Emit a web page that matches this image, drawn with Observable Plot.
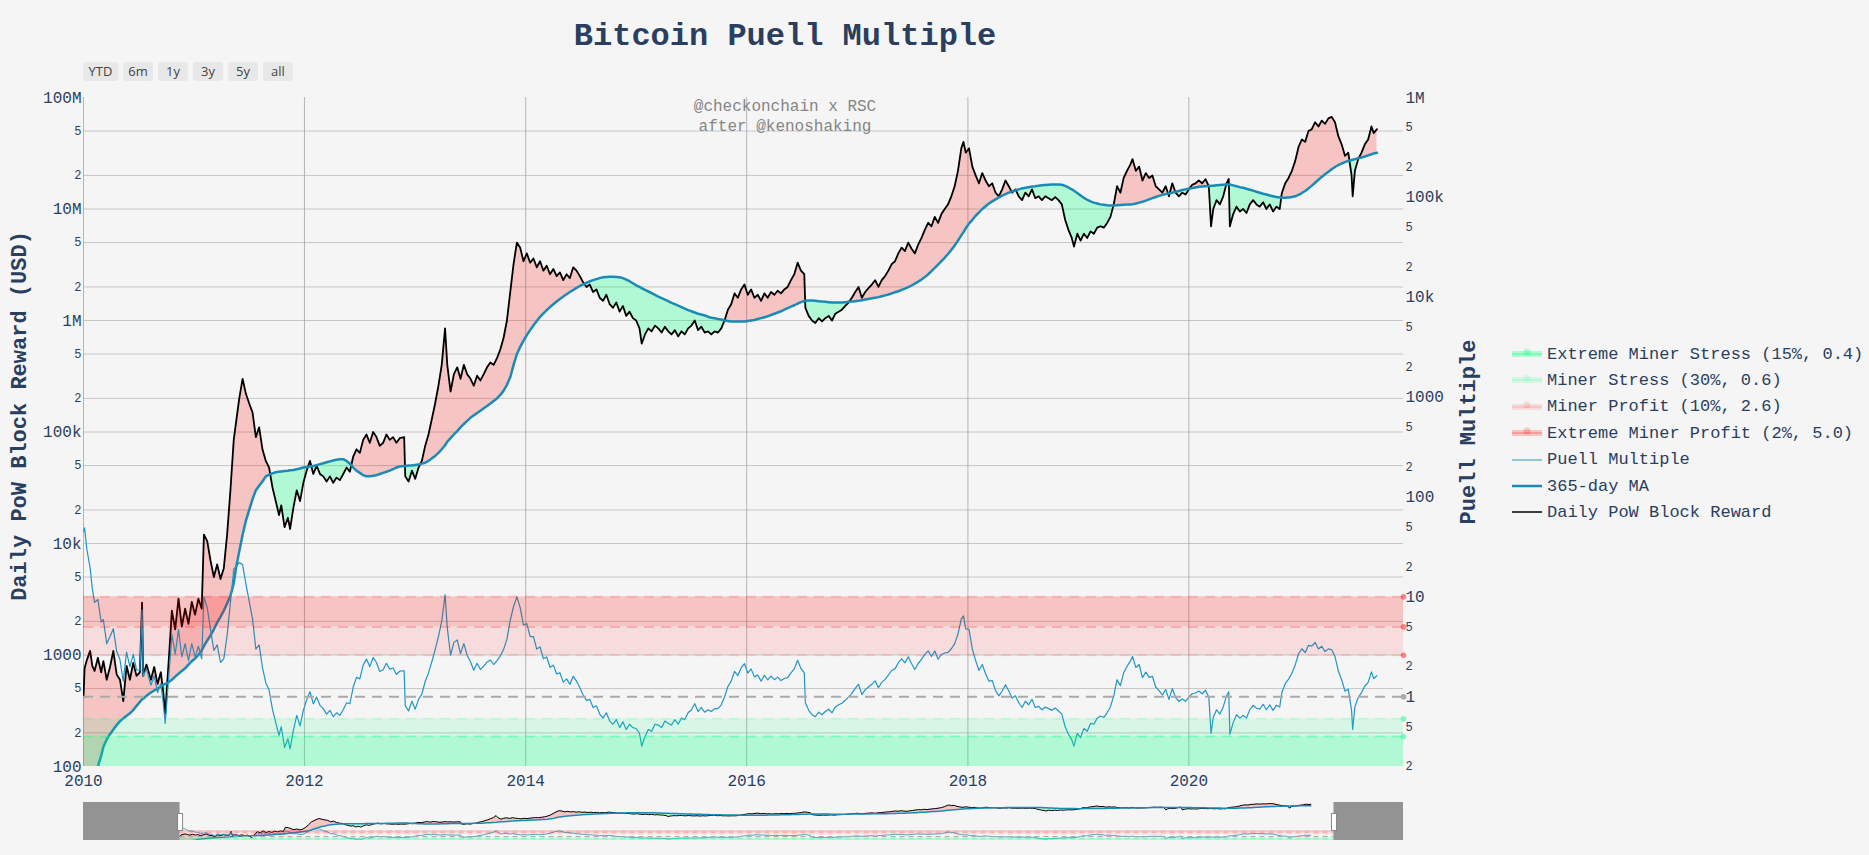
<!DOCTYPE html>
<html>
<head>
<meta charset="utf-8">
<script src="https://cdn.jsdelivr.net/npm/d3@7"></script>
<script src="https://cdn.jsdelivr.net/npm/@observablehq/plot@0.6"></script>
<style>
html,body{margin:0;padding:0;background:#f5f5f5;}
#root{position:relative;width:1869px;height:855px;overflow:hidden;background:#f5f5f5;font-family:"Courier New","Liberation Mono",monospace;color:#2a3f5f;}
.abs{position:absolute;white-space:nowrap;}
.layer{position:absolute;left:0;}
.btn{position:absolute;top:62px;height:19px;line-height:19px;background:#e8e8e8;border-radius:3px;font-family:"Open Sans",sans-serif;font-size:13px;color:#444;text-align:center;}
.legrow{position:absolute;left:1512px;height:24px;display:flex;align-items:center;font-size:17px;white-space:nowrap;}
.legrow svg{margin-right:5px;flex:none;}
</style>
</head>
<body>
<div id="root"></div>
<script>
// ---------------- DATA ----------------
// decimal years
const years = [
2010.00,2010.01,2010.03,2010.06,2010.08,2010.10,2010.13,2010.16,2010.18,2010.21,2010.24,2010.27,2010.30,2010.33,2010.36,2010.39,2010.42,2010.45,2010.48,2010.51,2010.53,2010.54,2010.57,2010.61,2010.64,2010.67,2010.70,2010.72,2010.74,2010.76,2010.78,2010.80,2010.83,2010.86,2010.89,2010.92,2010.95,2010.98,
2011.01,2011.04,2011.07,2011.09,2011.12,2011.15,2011.18,2011.21,2011.24,2011.27,2011.30,2011.33,2011.36,2011.38,2011.41,2011.44,2011.47,2011.50,2011.53,2011.56,2011.59,2011.62,2011.65,2011.68,2011.71,2011.74,2011.77,2011.79,2011.82,2011.85,2011.87,2011.90,2011.93,2011.96,2011.99,
2012.02,2012.05,2012.08,2012.11,2012.14,2012.17,2012.20,2012.23,2012.26,2012.29,2012.32,2012.35,2012.38,2012.41,2012.44,2012.47,2012.50,2012.53,2012.56,2012.59,2012.62,2012.65,2012.68,2012.71,2012.74,2012.77,2012.80,2012.83,2012.86,2012.90,2012.91,2012.94,2012.97,
2013.00,2013.03,2013.06,2013.09,2013.12,2013.15,2013.18,2013.21,2013.24,2013.27,2013.29,2013.32,2013.35,2013.38,2013.41,2013.44,2013.47,2013.50,2013.53,2013.56,2013.59,2013.62,2013.65,2013.68,2013.71,2013.74,2013.77,2013.80,2013.83,2013.86,2013.89,2013.92,2013.95,2013.98,
2014.01,2014.04,2014.07,2014.10,2014.13,2014.16,2014.19,2014.22,2014.25,2014.28,2014.31,2014.34,2014.37,2014.40,2014.43,2014.46,2014.49,2014.52,2014.55,2014.58,2014.61,2014.64,2014.67,2014.70,2014.73,2014.76,2014.79,2014.82,2014.85,2014.88,2014.91,2014.94,2014.97,
2015.00,2015.03,2015.05,2015.08,2015.11,2015.14,2015.17,2015.20,2015.23,2015.26,2015.29,2015.32,2015.35,2015.38,2015.41,2015.44,2015.47,2015.50,2015.53,2015.56,2015.59,2015.62,2015.65,2015.68,2015.71,2015.74,2015.77,2015.80,2015.83,2015.86,2015.89,2015.92,2015.95,2015.98,
2016.01,2016.04,2016.07,2016.10,2016.13,2016.16,2016.19,2016.22,2016.25,2016.28,2016.31,2016.34,2016.37,2016.40,2016.43,2016.46,2016.49,2016.52,2016.53,2016.56,2016.59,2016.62,2016.65,2016.68,2016.71,2016.74,2016.77,2016.80,2016.83,2016.86,2016.89,2016.92,2016.95,2016.98,
2017.01,2017.04,2017.07,2017.10,2017.13,2017.16,2017.19,2017.22,2017.25,2017.28,2017.31,2017.34,2017.37,2017.40,2017.43,2017.46,2017.49,2017.52,2017.55,2017.58,2017.61,2017.64,2017.67,2017.70,2017.73,2017.76,2017.79,2017.82,2017.85,2017.88,2017.91,2017.94,2017.96,2017.98,
2018.01,2018.04,2018.07,2018.10,2018.13,2018.16,2018.19,2018.22,2018.25,2018.28,2018.31,2018.34,2018.37,2018.40,2018.43,2018.46,2018.49,2018.52,2018.55,2018.58,2018.61,2018.64,2018.67,2018.70,2018.73,2018.76,2018.79,2018.82,2018.85,2018.88,2018.91,2018.94,2018.96,2018.99,
2019.02,2019.05,2019.08,2019.11,2019.14,2019.17,2019.20,2019.23,2019.26,2019.29,2019.32,2019.35,2019.38,2019.41,2019.44,2019.47,2019.49,2019.52,2019.55,2019.58,2019.61,2019.64,2019.67,2019.70,2019.73,2019.76,2019.79,2019.82,2019.85,2019.88,2019.91,2019.94,2019.97,
2020.00,2020.03,2020.06,2020.09,2020.12,2020.15,2020.18,2020.20,2020.22,2020.25,2020.28,2020.31,2020.34,2020.36,2020.37,2020.40,2020.43,2020.46,2020.49,2020.52,2020.55,2020.58,2020.61,2020.64,2020.67,2020.70,2020.73,2020.76,2020.79,2020.82,2020.84,2020.87,2020.90,2020.93,2020.96,2020.99,
2021.02,2021.05,2021.08,2021.11,2021.14,2021.17,2021.20,2021.23,2021.26,2021.29,2021.32,2021.35,2021.38,2021.41,2021.44,2021.47,2021.48,2021.50,2021.53,2021.56,2021.59,2021.62,2021.65,2021.67,2021.70
];
// Daily PoW Block Reward (USD)
const rewardUSD = [
420,760,900,1090,800,720,940,700,880,600,780,1090,670,600,385,800,600,850,650,700,2950,650,820,600,780,550,700,480,295,600,1200,2500,1700,3200,1800,2600,1900,3000,
2300,3200,2600,12e3,10.5e3,7e3,5e3,6.5e3,4.8e3,6e3,12e3,30e3,85e3,120e3,200e3,300e3,220e3,180e3,150e3,90e3,110e3,70e3,55e3,48e3,32e3,24e3,18e3,22e3,14e3,17e3,13.5e3,21e3,30e3,24e3,35e3,
45e3,55e3,42e3,50e3,42e3,40e3,36e3,40e3,35e3,39e3,37e3,42e3,48e3,44e3,60e3,70e3,65e3,85e3,95e3,80e3,100e3,90e3,75e3,80e3,95e3,85e3,90e3,80e3,88e3,90e3,40e3,36e3,45e3,
38e3,48e3,55e3,75e3,95e3,130e3,180e3,260e3,400e3,850e3,400e3,230e3,330e3,380e3,300e3,400e3,330e3,300e3,260e3,320e3,290e3,330e3,380e3,420e3,400e3,460e3,550e3,700e3,1e6,1.8e6,3.2e6,5e6,4.5e6,3.4e6,
4e6,3.3e6,3.6e6,3e6,3.4e6,2.8e6,3.1e6,2.6e6,2.9e6,2.5e6,2.7e6,2.3e6,2.6e6,2.4e6,3e6,2.8e6,2.5e6,2.2e6,2e6,2.1e6,1.8e6,1.9e6,1.6e6,1.5e6,1.7e6,1.4e6,1.3e6,1.45e6,1.2e6,1.35e6,1.1e6,1.2e6,1.05e6,
1e6,850e3,620e3,750e3,850e3,800e3,900e3,850e3,780e3,880e3,800e3,750e3,820e3,720e3,800e3,750e3,850e3,900e3,1e6,820e3,880e3,780e3,800e3,750e3,800e3,780e3,850e3,1e6,1.25e6,1.4e6,1.75e6,1.6e6,1.9e6,2.1e6,
1.7e6,1.9e6,1.6e6,1.7e6,1.5e6,1.75e6,1.6e6,1.8e6,1.7e6,1.85e6,1.75e6,1.9e6,2e6,2.3e6,2.6e6,3.3e6,2.8e6,2.6e6,1.3e6,1.1e6,1e6,950e3,1.05e6,980e3,1.05e6,1.1e6,1e6,1.15e6,1.2e6,1.25e6,1.35e6,1.45e6,1.6e6,1.8e6,
2e6,1.6e6,1.8e6,1.95e6,2.1e6,2.3e6,2e6,2.3e6,2.5e6,2.8e6,3.2e6,3.4e6,4e6,4.5e6,4.2e6,5e6,4.4e6,4e6,4.8e6,5.5e6,6.5e6,7.5e6,7e6,8.5e6,7.5e6,9e6,10e6,11e6,13e6,16e6,22e6,35e6,40e6,32e6,
35e6,24e6,20e6,17e6,21e6,18e6,16e6,17e6,14e6,13e6,15e6,18e6,16e6,14e6,15e6,13e6,12e6,14e6,13e6,15e6,12.5e6,13e6,12e6,13e6,12.5e6,12e6,12.8e6,12e6,11e6,8e6,6.5e6,5.5e6,4.6e6,6e6,
5.2e6,6e6,5.5e6,6.3e6,6e6,6.8e6,7e6,6.8e6,7.5e6,8.5e6,11e6,16e6,14e6,19e6,22e6,25e6,28e6,22e6,24e6,18e6,21e6,19e6,20e6,16e6,15e6,14e6,16e6,13e6,17e6,14e6,13e6,14e6,13.5e6,
15e6,16.5e6,17e6,18e6,17e6,18.5e6,16e6,7e6,10e6,12e6,11e6,13e6,17e6,18.6e6,7e6,9e6,10.5e6,9.5e6,10e6,9.2e6,11e6,12e6,11e6,10.5e6,11.5e6,10e6,11e6,9.5e6,10.5e6,10e6,14e6,17e6,19e6,22e6,27e6,36e6,
42e6,40e6,50e6,52e6,60e6,55e6,62e6,58e6,65e6,67e6,60e6,45e6,38e6,30e6,32e6,20e6,13e6,22e6,28e6,32e6,38e6,42e6,55e6,48e6,52e6
];
// 365-day moving average of the block reward (USD)
const ma365USD = [
9,15,30,55,70,82,100,125,150,175,195,215,235,255,270,285,300,320,350,380,400,405,430,460,480,500,520,540,550,560,580,600,640,680,720,760,820,880,
930,1000,1100,1200,1350,1500,1700,1950,2200,2500,2900,3400,4400,6000,8500,12e3,16e3,20e3,25e3,30e3,33e3,36e3,40e3,41.5e3,42.5e3,43.5e3,44e3,44.3e3,44.7e3,45e3,45.3e3,45.7e3,46.3e3,47e3,48e3,
48.5e3,49e3,49.5e3,50.5e3,51.5e3,52.5e3,53.5e3,54.5e3,55.5e3,56.5e3,57e3,57e3,55e3,52e3,48e3,45e3,43e3,41e3,40e3,40e3,40.5e3,41e3,42e3,43e3,44e3,45e3,46.5e3,48e3,49e3,49.5e3,49.6e3,50e3,50e3,
50.5e3,51e3,52e3,53e3,55e3,58e3,61e3,65e3,70e3,76e3,82e3,88e3,95e3,102e3,110e3,118e3,126e3,134e3,141e3,148e3,155e3,163e3,171e3,180e3,190e3,200e3,215e3,235e3,265e3,310e3,400e3,500e3,580e3,660e3,
740e3,820e3,900e3,990e3,1.08e6,1.16e6,1.24e6,1.32e6,1.4e6,1.48e6,1.56e6,1.64e6,1.72e6,1.8e6,1.88e6,1.96e6,2.04e6,2.11e6,2.18e6,2.24e6,2.3e6,2.35e6,2.4e6,2.44e6,2.46e6,2.47e6,2.47e6,2.46e6,2.44e6,2.4e6,2.33e6,2.25e6,2.16e6,
2.07e6,2e6,1.95e6,1.88e6,1.82e6,1.76e6,1.7e6,1.64e6,1.59e6,1.54e6,1.49e6,1.44e6,1.4e6,1.36e6,1.32e6,1.28e6,1.24e6,1.21e6,1.18e6,1.15e6,1.13e6,1.11e6,1.08e6,1.06e6,1.05e6,1.03e6,1.02e6,1e6,990e3,980e3,980e3,980e3,980e3,980e3,
990e3,1e6,1.01e6,1.03e6,1.05e6,1.07e6,1.09e6,1.12e6,1.15e6,1.18e6,1.21e6,1.25e6,1.29e6,1.33e6,1.37e6,1.42e6,1.46e6,1.5e6,1.5e6,1.51e6,1.51e6,1.5e6,1.49e6,1.48e6,1.47e6,1.46e6,1.45e6,1.45e6,1.45e6,1.45e6,1.46e6,1.47e6,1.48e6,1.49e6,
1.5e6,1.52e6,1.54e6,1.56e6,1.58e6,1.6e6,1.62e6,1.65e6,1.68e6,1.71e6,1.75e6,1.79e6,1.83e6,1.88e6,1.93e6,1.99e6,2.06e6,2.14e6,2.23e6,2.33e6,2.45e6,2.6e6,2.77e6,2.96e6,3.17e6,3.4e6,3.65e6,3.95e6,4.3e6,4.7e6,5.2e6,5.8e6,6.2e6,6.7e6,
7.4e6,8e6,8.7e6,9.3e6,10e6,10.6e6,11.2e6,11.7e6,12.2e6,12.7e6,13.2e6,13.6e6,14e6,14.4e6,14.7e6,15e6,15.3e6,15.5e6,15.7e6,15.9e6,16e6,16.2e6,16.3e6,16.4e6,16.5e6,16.55e6,16.6e6,16.6e6,16.5e6,16.1e6,15.6e6,15e6,14.6e6,13.9e6,
13.2e6,12.6e6,12.1e6,11.7e6,11.4e6,11.2e6,11e6,10.9e6,10.8e6,10.75e6,10.75e6,10.8e6,10.85e6,10.9e6,10.95e6,11e6,11.05e6,11.2e6,11.4e6,11.6e6,11.9e6,12.2e6,12.5e6,12.8e6,13.1e6,13.4e6,13.6e6,13.8e6,14e6,14.3e6,14.5e6,14.8e6,15e6,
15.2e6,15.4e6,15.6e6,15.8e6,15.9e6,16e6,16.1e6,16.15e6,16.2e6,16.3e6,16.4e6,16.5e6,16.6e6,16.6e6,16.6e6,16.3e6,16e6,15.7e6,15.5e6,15.2e6,14.9e6,14.6e6,14.3e6,14e6,13.7e6,13.5e6,13.2e6,13e6,12.8e6,12.7e6,12.6e6,12.6e6,12.7e6,12.8e6,13e6,13.4e6,
13.9e6,14.5e6,15.3e6,16.2e6,17.2e6,18.3e6,19.4e6,20.5e6,21.6e6,22.7e6,23.8e6,24.8e6,25.6e6,26.3e6,27e6,27.5e6,27.7e6,28e6,28.5e6,29e6,29.6e6,30.3e6,31e6,31.5e6,32e6
];
// Puell Multiple
const puellMultiple = [
45,49,30,19.5,12,8.8,9.4,5.6,5.9,3.4,4.0,4.8,2.85,2.35,1.43,2.8,2.0,2.65,1.86,1.84,7.4,1.6,1.9,1.3,1.62,1.1,1.35,0.89,0.54,1.07,2.07,4.2,2.66,4.7,2.5,3.4,2.3,3.4,
2.5,3.2,2.4,10,7.8,4.7,2.9,3.3,2.2,2.4,4.1,8.8,19,20,22,21,13.5,9,6,3.0,3.3,1.95,1.38,1.16,0.75,0.55,0.41,0.5,0.31,0.38,0.3,0.46,0.65,0.51,0.73,
0.93,1.12,0.85,0.99,0.82,0.76,0.67,0.73,0.63,0.69,0.65,0.74,0.87,0.85,1.25,1.56,1.51,2.07,2.38,2.0,2.47,2.2,1.79,1.86,2.16,1.89,1.94,1.67,1.8,1.82,0.81,0.72,0.9,
0.75,0.94,1.06,1.42,1.73,2.24,2.95,4.0,5.7,10.5,4.9,2.6,3.5,3.7,2.7,3.4,2.6,2.24,1.84,2.16,1.87,2.02,2.22,2.33,2.1,2.3,2.56,2.98,3.77,5.8,8.0,10,7.8,5.2,
5.4,4.0,4.0,3.0,3.15,2.4,2.5,1.97,2.07,1.69,1.73,1.4,1.51,1.33,1.6,1.43,1.23,1.04,0.92,0.94,0.78,0.81,0.67,0.61,0.69,0.57,0.53,0.59,0.49,0.56,0.47,0.53,0.49,
0.48,0.43,0.32,0.4,0.47,0.45,0.53,0.52,0.49,0.57,0.54,0.52,0.59,0.53,0.61,0.59,0.69,0.74,0.85,0.71,0.78,0.7,0.74,0.71,0.76,0.76,0.83,1.0,1.26,1.43,1.79,1.63,1.94,2.14,
1.72,1.9,1.58,1.65,1.43,1.64,1.47,1.61,1.48,1.57,1.45,1.52,1.55,1.73,1.9,2.32,1.92,1.73,0.87,0.73,0.66,0.63,0.7,0.66,0.71,0.75,0.69,0.79,0.83,0.86,0.92,0.99,1.08,1.21,
1.33,1.05,1.17,1.25,1.33,1.44,1.23,1.39,1.49,1.64,1.83,1.9,2.19,2.39,2.18,2.51,2.14,1.87,2.15,2.36,2.65,2.88,2.53,2.87,2.37,2.65,2.74,2.78,3.02,3.4,4.23,6.03,6.45,4.78,
4.73,3.0,2.3,1.83,2.1,1.7,1.43,1.45,1.15,1.02,1.14,1.32,1.14,0.97,1.02,0.87,0.78,0.9,0.83,0.94,0.78,0.8,0.74,0.79,0.76,0.73,0.77,0.72,0.67,0.5,0.42,0.37,0.32,0.43,
0.39,0.48,0.45,0.54,0.53,0.61,0.64,0.62,0.69,0.79,1.02,1.48,1.29,1.74,2.01,2.27,2.53,1.96,2.1,1.55,1.76,1.56,1.6,1.25,1.15,1.04,1.18,0.94,1.21,0.98,0.9,0.95,0.9,
0.99,1.07,1.09,1.14,1.07,1.16,0.99,0.43,0.62,0.74,0.67,0.79,1.02,1.12,0.42,0.55,0.66,0.61,0.65,0.61,0.74,0.82,0.77,0.75,0.84,0.74,0.83,0.73,0.82,0.79,1.11,1.35,1.5,1.72,2.08,2.69,
3.02,2.76,3.27,3.21,3.49,3.0,3.2,2.83,3.01,2.95,2.52,1.81,1.48,1.14,1.19,0.73,0.47,0.79,0.98,1.1,1.28,1.39,1.77,1.52,1.62
];

// Puell Multiple zones (right axis)
const zoneNames = ["Extreme Miner Stress (15%, 0.4)", "Miner Stress (30%, 0.6)", "Miner Profit (10%, 2.6)", "Extreme Miner Profit (2%, 5.0)"];
const zoneLow  = [0.2, 0.4, 2.6, 5.0];
const zoneHigh = [0.4, 0.6, 5.0, 10];
const zoneColors = ["rgba(0,255,127,0.28)", "rgba(0,255,127,0.12)", "rgba(255,0,0,0.1)", "rgba(255,0,0,0.2)"];
const zoneLineValues = [10, 5.0, 2.6, 1, 0.6, 0.4];
const zoneLineColors = ["rgba(255,0,0,0.16)", "rgba(255,0,0,0.2)", "rgba(255,0,0,0.1)", "#aaaaaa", "rgba(0,255,127,0.14)", "rgba(0,255,127,0.32)"];

// ticks and titles
const xTickYears = [2010, 2012, 2014, 2016, 2018, 2020];
const leftMajorTicks  = [100, 1e3, 1e4, 1e5, 1e6, 1e7, 1e8];
const leftMajorLabels = ["100", "1000", "10k", "100k", "1M", "10M", "100M"];
const leftMinorTicks  = [200, 500, 2e3, 5e3, 2e4, 5e4, 2e5, 5e5, 2e6, 5e6, 2e7, 5e7];
const rightMajorTicks  = [1, 10, 100, 1e3, 1e4, 1e5, 1e6];
const rightMajorLabels = ["1", "10", "100", "1000", "10k", "100k", "1M"];
const rightMinorTicks  = [0.2, 0.5, 2, 5, 20, 50, 200, 500, 2e3, 5e3, 2e4, 5e4, 2e5, 5e5];
const leftAxisTitle = "Daily PoW Block Reward (USD)";
const rightAxisTitle = "Puell Multiple";

const legendNames = [...zoneNames, "Puell Multiple", "365-day MA", "Daily PoW Block Reward"];
const rangeButtons = ["YTD", "6m", "1y", "3y", "5y", "all"];

// ---------------- CHART ----------------
const toDate = y => { const yr = Math.floor(y + 1e-9); const a = Date.UTC(yr, 0, 1), b = Date.UTC(yr + 1, 0, 1); return new Date(a + (y - yr) * (b - a)); };
const n = Math.min(years.length, rewardUSD.length, ma365USD.length, puellMultiple.length);
if (n !== years.length || n !== rewardUSD.length || n !== ma365USD.length || n !== puellMultiple.length) console.warn("length mismatch", years.length, rewardUSD.length, ma365USD.length, puellMultiple.length);
const data = d3.range(n).map(i => ({date: toDate(years[i]), reward: rewardUSD[i], ma: ma365USD[i], puell: puellMultiple[i]}));

const W = 1869, H = 800;
const FL = 83, FR = 1403, FT = 97, FB = 766;
const xDomain = [toDate(2010.0), toDate(2021.94)];
const sliderDomain = [toDate(2009.0), toDate(2022.66)];
const leftDomain = [100, 1e8];
const rightDomain = [0.2, 1e6];
const FONT = '"Courier New","Liberation Mono",monospace';
const RED = "#ff0000", GREEN = "#00ff7f";
const MA_COLOR = "#1b8ab5", PUELL_COLOR = "#2196c3";

const leftMajorMap = new Map(leftMajorTicks.map((t, i) => [t, leftMajorLabels[i]]));
const rightMajorMap = new Map(rightMajorTicks.map((t, i) => [t, rightMajorLabels[i]]));
const minorFmt = d => String(Math.round(d / Math.pow(10, Math.floor(Math.log10(d) + 1e-9))));

const root = document.getElementById("root");
function layer(el, top) { const d = document.createElement("div"); d.className = "layer"; d.style.top = top + "px"; d.appendChild(el); root.appendChild(d); }

const frameOpts = {width: W, height: H, marginLeft: FL, marginRight: W - FR, marginTop: FT, marginBottom: H - FB};

// Left-axis plot: block reward, MA, fills, grid
const main = Plot.plot({
  ...frameOpts,
  style: {background: "#f5f5f5", fontFamily: FONT, color: "#2a3f5f", overflow: "visible"},
  x: {type: "utc", domain: xDomain, label: null},
  y: {type: "log", domain: leftDomain, label: null},
  marks: [
    Plot.gridY(leftMinorTicks.concat([1e3, 1e4, 1e5, 1e6, 1e7]), {stroke: "#c6c6c6", strokeOpacity: 1}),
    Plot.gridX(xTickYears.map(toDate), {stroke: "#a4a4a4", strokeOpacity: 1, strokeWidth: 0.8}),
    Plot.areaY(data, {x: "date", y1: "ma", y2: d => Math.max(d.reward, d.ma), fill: RED, fillOpacity: 0.2, clip: true}),
    Plot.areaY(data, {x: "date", y1: d => Math.min(d.reward, d.ma), y2: "ma", fill: GREEN, fillOpacity: 0.28, clip: true}),
    Plot.lineY(data, {x: "date", y: "reward", stroke: "#000", strokeWidth: 1.8, clip: true}),
    Plot.lineY(data, {x: "date", y: "ma", stroke: MA_COLOR, strokeWidth: 2.5, clip: true}),
    Plot.axisY(leftMajorTicks, {anchor: "left", tickSize: 0, tickPadding: 2, fontSize: 16, label: null, tickFormat: d => leftMajorMap.get(d)}),
    Plot.text(leftMinorTicks, {y: d => d, frameAnchor: "left", dx: -2, textAnchor: "end", text: minorFmt, fontSize: 12, fill: "currentColor"}),
    Plot.axisX(xTickYears.map(toDate), {anchor: "bottom", tickSize: 0, tickPadding: 8, fontSize: 16, label: null, tickFormat: d => String(d.getUTCFullYear())}),
    Plot.text([leftAxisTitle], {frameAnchor: "left", textAnchor: "middle", dx: -65, dy: -16, rotate: -90, text: d => d, fontSize: 22, fontWeight: "bold", fill: "#2a3f5f"})
  ]
});
layer(main, 0);

// Right-axis plot: Puell multiple and zones
const zoneMarks = zoneLow.map((lo, i) => Plot.rect([0], {x1: () => xDomain[0], x2: () => xDomain[1], y1: () => lo, y2: () => zoneHigh[i], fill: zoneColors[i]}));
const zoneRules = zoneLineValues.map((v, i) => Plot.ruleY([v], {stroke: zoneLineColors[i], strokeWidth: 2, strokeDasharray: "10,7"}));
const overlay = Plot.plot({
  ...frameOpts,
  style: {background: "transparent", fontFamily: FONT, color: "#2a3f5f", overflow: "visible"},
  x: {type: "utc", domain: xDomain, axis: null},
  y: {type: "log", domain: rightDomain, label: null},
  marks: [
    Plot.lineY(data, {x: "date", y: "puell", stroke: PUELL_COLOR, strokeWidth: 1.2, clip: true}),
    ...zoneMarks,
    ...zoneRules,
    Plot.dot(zoneLineValues, {x: () => xDomain[1], y: d => d, r: 2.8, fill: (d, i) => zoneLineColors[i].replace(/0\.\d+\)/, "0.45)")}),
    Plot.axisY(rightMajorTicks, {anchor: "right", tickSize: 0, tickPadding: 2, fontSize: 16, label: null, tickFormat: d => rightMajorMap.get(d)}),
    Plot.text(rightMinorTicks, {y: d => d, frameAnchor: "right", dx: 2, textAnchor: "start", text: minorFmt, fontSize: 12, fill: "currentColor"}),
    Plot.text([rightAxisTitle], {frameAnchor: "right", textAnchor: "middle", dx: 64, rotate: -90, text: d => d, fontSize: 22, fontWeight: "bold", fill: "#2a3f5f"})
  ]
});
layer(overlay, 0);

// Range slider (mini charts)
const SH = 38;
const sliderOpts = {width: W, height: SH, marginLeft: FL, marginRight: W - FR, marginTop: 0, marginBottom: 0};
const sliderMain = Plot.plot({
  ...sliderOpts,
  style: {background: "transparent", overflow: "visible"},
  x: {type: "utc", domain: sliderDomain, axis: null},
  y: {type: "log", domain: leftDomain, axis: null},
  marks: [
    Plot.areaY(data, {x: "date", y1: "ma", y2: d => Math.max(d.reward, d.ma), fill: RED, fillOpacity: 0.2, clip: true}),
    Plot.areaY(data, {x: "date", y1: d => Math.min(d.reward, d.ma), y2: "ma", fill: GREEN, fillOpacity: 0.28, clip: true}),
    Plot.lineY(data, {x: "date", y: "reward", stroke: "#000", strokeWidth: 1, clip: true}),
    Plot.lineY(data, {x: "date", y: "ma", stroke: MA_COLOR, strokeWidth: 1.5, clip: true})
  ]
});
layer(sliderMain, 802);
const sliderPuell = Plot.plot({
  ...sliderOpts,
  style: {background: "transparent", overflow: "visible"},
  x: {type: "utc", domain: sliderDomain, axis: null},
  y: {type: "log", domain: rightDomain, axis: null},
  marks: [
    Plot.lineY(data, {x: "date", y: "puell", stroke: PUELL_COLOR, strokeWidth: 0.8, clip: true}),
    ...zoneLow.map((lo, i) => Plot.rect([0], {x1: () => toDate(2010.0), x2: () => xDomain[1], y1: () => lo, y2: () => zoneHigh[i], fill: zoneColors[i]})),
    ...zoneLineValues.map((v, i) => Plot.ruleY([v], {x1: () => toDate(2010.0), x2: () => xDomain[1], stroke: zoneLineColors[i], strokeWidth: 1, strokeDasharray: "5,4"})),
    Plot.rect([0], {x1: () => sliderDomain[0], x2: () => xDomain[0], y1: () => rightDomain[0], y2: () => rightDomain[1], fill: "#000", fillOpacity: 0.4}),
    Plot.rect([0], {x1: () => xDomain[1], x2: () => sliderDomain[1], y1: () => rightDomain[0], y2: () => rightDomain[1], fill: "#000", fillOpacity: 0.4}),
    Plot.ruleX(xDomain, {stroke: "#888", strokeWidth: 6, insetTop: 11, insetBottom: 9}),
    Plot.ruleX(xDomain, {stroke: "#fff", strokeWidth: 4, insetTop: 12, insetBottom: 10})
  ]
});
layer(sliderPuell, 802);

// ---------------- TEXT & DECORATIONS ----------------
function addText(txt, css) { const d = document.createElement("div"); d.className = "abs"; d.textContent = txt; Object.assign(d.style, css); root.appendChild(d); return d; }
addText("Bitcoin Puell Multiple", {left: "785px", top: "36px", transform: "translate(-50%,-50%)", fontSize: "32px", fontWeight: "bold", color: "#2a3f5f"});
addText("@checkonchain x RSC", {left: "785px", top: "107px", transform: "translate(-50%,-50%)", fontSize: "16px", color: "#858585"});
addText("after @kenoshaking", {left: "785px", top: "127px", transform: "translate(-50%,-50%)", fontSize: "16px", color: "#858585"});

// range selector buttons
const btnWidths = [35, 30, 30, 30, 30, 30];
let bx = 83;
rangeButtons.forEach((b, i) => {
  const d = document.createElement("div"); d.className = "btn"; d.textContent = b;
  d.style.left = bx + "px"; d.style.width = btnWidths[i] + "px"; root.appendChild(d); bx += btnWidths[i] + 5;
});

// legend
const NS = "http://www.w3.org/2000/svg";
legendNames.forEach((name, i) => {
  const row = document.createElement("div"); row.className = "legrow"; row.style.top = (354 + i * 26.4 - 12) + "px";
  const svg = document.createElementNS(NS, "svg"); svg.setAttribute("width", 30); svg.setAttribute("height", 14);
  const el = (tag, attrs) => { const e = document.createElementNS(NS, tag); for (const k in attrs) e.setAttribute(k, attrs[k]); svg.appendChild(e); };
  if (i < 4) {
    el("rect", {x: 0, y: 4, width: 30, height: 6, fill: zoneColors[i]});
    el("line", {x1: 0, x2: 30, y1: 7, y2: 7, stroke: zoneColors[i], "stroke-width": 2});
    el("circle", {cx: 15, cy: 5, r: 3.5, fill: zoneColors[i]});
  } else if (i === 4) {
    el("line", {x1: 0, x2: 30, y1: 7, y2: 7, stroke: PUELL_COLOR, "stroke-width": 1.2, "stroke-opacity": 0.8});
  } else if (i === 5) {
    el("line", {x1: 0, x2: 30, y1: 7, y2: 7, stroke: MA_COLOR, "stroke-width": 2.5});
  } else {
    el("line", {x1: 0, x2: 30, y1: 7, y2: 7, stroke: "#000", "stroke-width": 1.5});
  }
  row.appendChild(svg);
  const t = document.createElement("span"); t.textContent = name; row.appendChild(t);
  root.appendChild(row);
});
</script>
</body>
</html>
